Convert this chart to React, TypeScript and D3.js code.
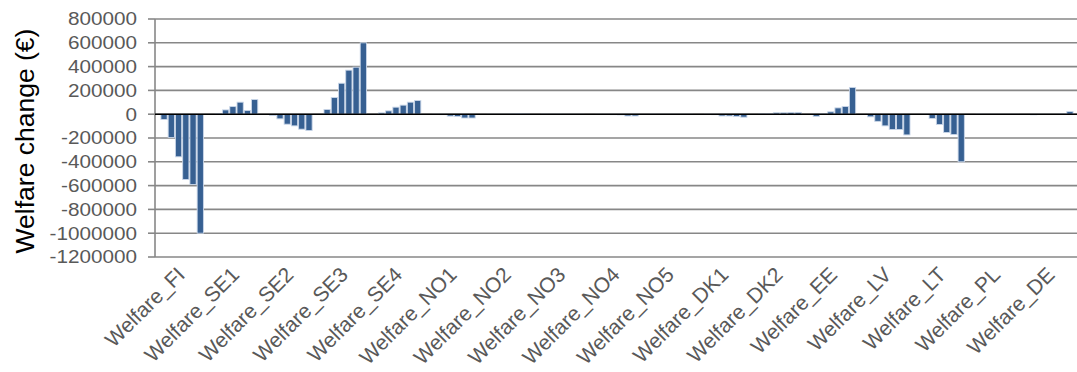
import React from "react";
import * as d3 from "d3";

// Bidding zones on the category axis
const categories = [
  "Welfare_FI", "Welfare_SE1", "Welfare_SE2", "Welfare_SE3", "Welfare_SE4",
  "Welfare_NO1", "Welfare_NO2", "Welfare_NO3", "Welfare_NO4", "Welfare_NO5",
  "Welfare_DK1", "Welfare_DK2", "Welfare_EE", "Welfare_LV", "Welfare_LT",
  "Welfare_PL", "Welfare_DE",
];

// Six scenario series, one value (€) per zone
const series1 = [-45000, 3000, -11000, 40000, 11000, -2000, -1000, 1000, -2000, 1000, -2000, 3000, -18000, -22000, -3000, 1000, -5000];
const series2 = [-196000, 36000, -39000, 140000, 28000, -4000, -2000, -1000, -3000, -1000, -4000, 5000, 3000, -60000, -36000, -1000, -2000];
const series3 = [-358000, 64000, -84000, 260000, 59000, -16000, -2000, 1000, -4000, -2000, -15000, 12000, 20000, -98000, -87000, -2000, -2000];
const series4 = [-549000, 101000, -98000, 370000, 76000, -20000, 2000, -1000, -6000, -2000, -15000, 12000, 53000, -129000, -154000, -2000, -3000];
const series5 = [-591000, 31000, -126000, 395000, 101000, -32000, 5000, -2000, -15000, -3000, -20000, 15000, 65000, -129000, -171000, -3000, 3000];
const series6 = [-1000000, 123000, -137000, 600000, 115000, -32000, 3000, -2000, -15000, -3000, -25000, 15000, 225000, -174000, -400000, -3000, 22000];

const allSeries = [series1, series2, series3, series4, series5, series6];

const yTicks = [800000, 600000, 400000, 200000, 0, -200000, -400000, -600000, -800000, -1000000, -1200000];

const W = 1077;
const H = 372;
const left = 155;
const right = 1079;
const top = 19;
const bottom = 257;

export default function App() {
  const y = d3.scaleLinear().domain([-1200000, 800000]).range([bottom, top]);
  const x0 = d3.scaleBand<string>().domain(categories).range([left, right]).padding(0);
  const x1 = d3
    .scaleBand<number>()
    .domain(d3.range(allSeries.length))
    .range([0, x0.bandwidth()])
    .paddingInner(0)
    .paddingOuter(0.75);
  const step = x1.bandwidth();
  const gridColor = "#878787";
  const textColor = "#595959";

  return (
    <svg
      width={W}
      height={H}
      style={{ position: "absolute", left: 0, top: 0, background: "#fff" }}
      fontFamily="'Liberation Sans', Arial, sans-serif"
    >
      {/* horizontal gridlines and y ticks */}
      {yTicks.map((t) => (
        <g key={t}>
          <line x1={left} x2={W} y1={y(t)} y2={y(t)} stroke={gridColor} strokeWidth={1.6} />
          <line x1={148} x2={left} y1={y(t)} y2={y(t)} stroke={gridColor} strokeWidth={1.6} />
          <g transform={`translate(137,${y(t)}) scale(1.15,1)`}>
            <text textAnchor="end" dy="0.36em" fontSize={18} fill={textColor}>
              {t}
            </text>
          </g>
        </g>
      ))}
      {/* value axis */}
      <line x1={left} x2={left} y1={top} y2={bottom} stroke={gridColor} strokeWidth={1.6} />

      {/* bars */}
      {allSeries.map((vals, si) =>
        vals.map((v, ci) => {
          const xb = (x0(categories[ci]) as number) + (x1(si) as number);
          const y0 = y(0);
          const yv = y(v);
          return (
            <rect
              key={`${si}-${ci}`}
              x={xb + 0.5}
              width={step - 1}
              y={Math.min(y0, yv)}
              height={Math.abs(yv - y0)}
              fill="#376092"
              stroke="#c9d6e8"
              strokeWidth={0.9}
            />
          );
        })
      )}

      {/* zero line */}
      <line x1={left} x2={W} y1={y(0)} y2={y(0)} stroke="#000" strokeWidth={1.6} />

      {/* category labels */}
      {categories.map((c) => {
        const cx = (x0(c) as number) + x0.bandwidth() / 2;
        return (
          <text
            key={c}
            transform={`translate(${cx + 4},276) rotate(-45)`}
            textAnchor="end"
            fontSize={21}
            fill={textColor}
          >
            {c}
          </text>
        );
      })}

      {/* axis title */}
      <text
        transform={`translate(33.5,141) rotate(-90)`}
        textAnchor="middle"
        fontSize={26.5}
        fill="#000"
      >
        Welfare change (€)
      </text>
    </svg>
  );
}
